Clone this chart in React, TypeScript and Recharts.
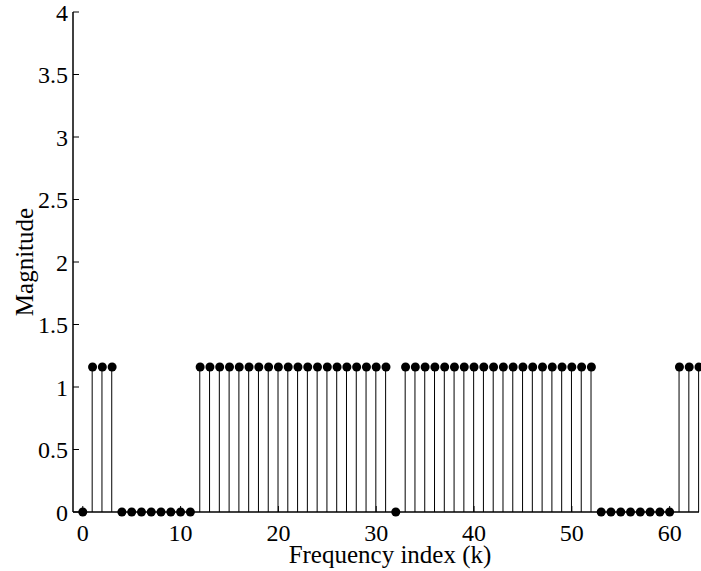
import React from 'react';
import { ComposedChart, Bar, Scatter, XAxis, YAxis } from 'recharts';

const kIndex = [
  0, 1, 2, 3, 4, 5, 6, 7, 8, 9, 10, 11, 12, 13, 14, 15,
  16, 17, 18, 19, 20, 21, 22, 23, 24, 25, 26, 27, 28, 29, 30, 31,
  32, 33, 34, 35, 36, 37, 38, 39, 40, 41, 42, 43, 44, 45, 46, 47,
  48, 49, 50, 51, 52, 53, 54, 55, 56, 57, 58, 59, 60, 61, 62, 63,
];

const magnitude = [
  0, 1.16, 1.16, 1.16, 0, 0, 0, 0, 0, 0, 0, 0, 1.16, 1.16, 1.16, 1.16,
  1.16, 1.16, 1.16, 1.16, 1.16, 1.16, 1.16, 1.16, 1.16, 1.16, 1.16, 1.16, 1.16, 1.16, 1.16, 1.16,
  0, 1.16, 1.16, 1.16, 1.16, 1.16, 1.16, 1.16, 1.16, 1.16, 1.16, 1.16, 1.16, 1.16, 1.16, 1.16,
  1.16, 1.16, 1.16, 1.16, 1.16, 0, 0, 0, 0, 0, 0, 0, 0, 1.16, 1.16, 1.16,
];

const xTicks = [0, 10, 20, 30, 40, 50, 60];
const yTicks = [0, 0.5, 1, 1.5, 2, 2.5, 3, 3.5, 4];

const xTitle = 'Frequency index (k)';
const yTitle = 'Magnitude';

const data = kIndex.map((k, i) => ({ k, mag: magnitude[i] }));

const FONT = '"Liberation Serif", "Times New Roman", serif';
const FS = 24;
const TITLE_FS = 25;
const TICK = 6;

const BottomTick = (props: any) => {
  const { x, y, payload } = props;
  return (
    <g>
      <line x1={x} y1={y} x2={x} y2={y - TICK} stroke="#000" strokeWidth={1} />
      <text x={x} y={y + 29} textAnchor="middle" fontSize={FS} fontFamily={FONT} fill="#000">
        {payload.value}
      </text>
    </g>
  );
};

const TopTick = (props: any) => {
  const { x, y } = props;
  return <line x1={x} y1={y} x2={x} y2={y + TICK} stroke="#000" strokeWidth={1} />;
};

const LeftTick = (props: any) => {
  const { x, y, payload } = props;
  return (
    <g>
      <line x1={x} y1={y} x2={x + TICK} y2={y} stroke="#000" strokeWidth={1} />
      <text x={x - 5} y={y + 8.5} textAnchor="end" fontSize={FS} fontFamily={FONT} fill="#000">
        {payload.value}
      </text>
    </g>
  );
};

const RightTick = (props: any) => {
  const { x, y } = props;
  return <line x1={x} y1={y} x2={x - TICK} y2={y} stroke="#000" strokeWidth={1} />;
};

const Dot = (props: any) => {
  const { cx, cy } = props;
  return <circle cx={cx} cy={cy} r={4.5} fill="#000" />;
};

export default function App() {
  return (
    <div style={{ position: 'absolute', left: 0, top: 0, width: 701, height: 571, background: '#fff' }}>
      <ComposedChart
        width={701}
        height={571}
        data={data}
        margin={{ top: 12, right: 2, left: 0, bottom: 0 }}
      >
        <XAxis
          dataKey="k"
          type="number"
          domain={[-1, 63]}
          ticks={xTicks}
          height={59}
          tickLine={false}
          tickSize={0}
          tickMargin={0}
          tick={<BottomTick />}
          axisLine={{ stroke: '#000', strokeWidth: 1.5 }}
          interval={0}
        />
        <XAxis
          xAxisId="top"
          dataKey="k"
          type="number"
          orientation="top"
          domain={[-1, 63]}
          ticks={xTicks}
          height={0}
          tickLine={false}
          tickSize={0}
          tickMargin={0}
          tick={<TopTick />}
          axisLine={{ stroke: '#000', strokeWidth: 1 }}
          interval={0}
        />
        <YAxis
          type="number"
          domain={[0, 4]}
          ticks={yTicks}
          width={73}
          tickLine={false}
          tickSize={0}
          tickMargin={0}
          tick={<LeftTick />}
          axisLine={{ stroke: '#000', strokeWidth: 1.5 }}
          interval={0}
        />
        <YAxis
          yAxisId="right"
          type="number"
          orientation="right"
          domain={[0, 4]}
          ticks={yTicks}
          width={0}
          tickLine={false}
          tickSize={0}
          tickMargin={0}
          tick={<RightTick />}
          axisLine={{ stroke: '#000', strokeWidth: 1 }}
          interval={0}
        />
        <Bar dataKey="mag" barSize={1} fill="#000" isAnimationActive={false} />
        <Scatter dataKey="mag" shape={<Dot />} isAnimationActive={false} />
      </ComposedChart>
      <svg
        width={701}
        height={571}
        style={{ position: 'absolute', left: 0, top: 0, pointerEvents: 'none' }}
      >
        <text x={390} y={563} textAnchor="middle" fontSize={TITLE_FS} fontFamily={FONT} fill="#000">
          {xTitle}
        </text>
        <text
          x={0}
          y={0}
          transform="translate(33 262) rotate(-90)"
          textAnchor="middle"
          fontSize={TITLE_FS}
          fontFamily={FONT}
          fill="#000"
        >
          {yTitle}
        </text>
      </svg>
    </div>
  );
}
